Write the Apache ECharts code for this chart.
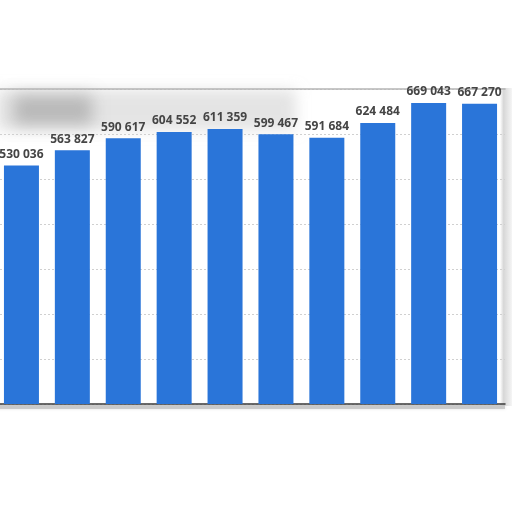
<!DOCTYPE html>
<html>
<head>
<meta charset="utf-8">
<script src="https://cdn.jsdelivr.net/npm/echarts@6/dist/echarts.min.js"></script>
<style>html,body{margin:0;padding:0;background:#fff;overflow:hidden;}#c{width:516px;height:512px;margin-left:-4px;}</style>
</head>
<body>
<div id="c"></div>
<script>
var categories = ['1','2','3','4','5','6','7','8','9','10'];
var values = [530036, 563827, 590617, 604552, 611359, 599467, 591684, 624484, 669043, 667270];
var yTicks = [0, 100000, 200000, 300000, 400000, 500000, 600000, 700000];

function fmt(v){ return String(v).replace(/\B(?=(\d{3})+(?!\d))/g, ' '); }

var chart = echarts.init(document.getElementById('c'));
chart.setOption({
  animation: false,
  backgroundColor: '#fff',
  grid: { left: 0, right: 7, top: 89, bottom: 108, containLabel: false },
  graphic: [
    { type: 'rect', z: -10, shape: { x: 0, y: -310, width: 300, height: 40 },
      style: { fill: '#fff', shadowBlur: 14, shadowOffsetY: 400, shadowColor: 'rgba(205,205,205,0.55)' } },
    { type: 'rect', z: -9, shape: { x: 18, y: -305, width: 78, height: 30 },
      style: { fill: '#fff', shadowBlur: 16, shadowOffsetY: 400, shadowColor: 'rgba(150,150,150,0.55)' } },
    { type: 'rect', z: -8, shape: { x: 0, y: 90, width: 300, height: 42 },
      style: { fill: 'rgba(0,0,0,0)' } },
    { type: 'rect', z: -5, shape: { x: 504, y: 88, width: 12, height: 318 },
      style: { fill: new echarts.graphic.LinearGradient(0,0,1,0,[{offset:0,color:'rgba(255,255,255,1)'},{offset:0.3,color:'rgba(215,215,215,1)'},{offset:1,color:'rgba(245,245,245,1)'}]) } },
    { type: 'rect', z: -5, shape: { x: 0, y: 405, width: 509, height: 4 },
      style: { fill: 'rgba(190,190,190,0.7)', shadowBlur: 3, shadowColor: 'rgba(180,180,180,0.6)' } }
  ],
  xAxis: [{
    type: 'category', data: categories, position: 'bottom',
    axisLine: { show: true, lineStyle: { color: '#3a3a3a', width: 1.5 } },
    axisTick: { show: false }, axisLabel: { show: false }
  }, {
    type: 'category', data: categories, position: 'top',
    axisLine: { show: true, lineStyle: { color: '#b5b5b5', width: 1.5 } },
    axisTick: { show: false }, axisLabel: { show: false }
  }],
  yAxis: {
    type: 'value', min: 0, max: 700000, interval: 100000,
    axisLine: { show: false }, axisTick: { show: false }, axisLabel: { show: false },
    splitLine: { show: true, lineStyle: { color: '#d0d0d0', type: [2, 2], width: 1 } }
  },
  series: [{
    type: 'bar', data: values, barWidth: 35,
    itemStyle: { color: '#2a75d9' },
    label: {
      show: true, position: 'top', distance: 5,
      color: '#454545', fontFamily: 'Open Sans', fontWeight: 'bold', fontSize: 12,
      formatter: function(p){ return fmt(p.value); }
    }
  }]
});
</script>
</body>
</html>
